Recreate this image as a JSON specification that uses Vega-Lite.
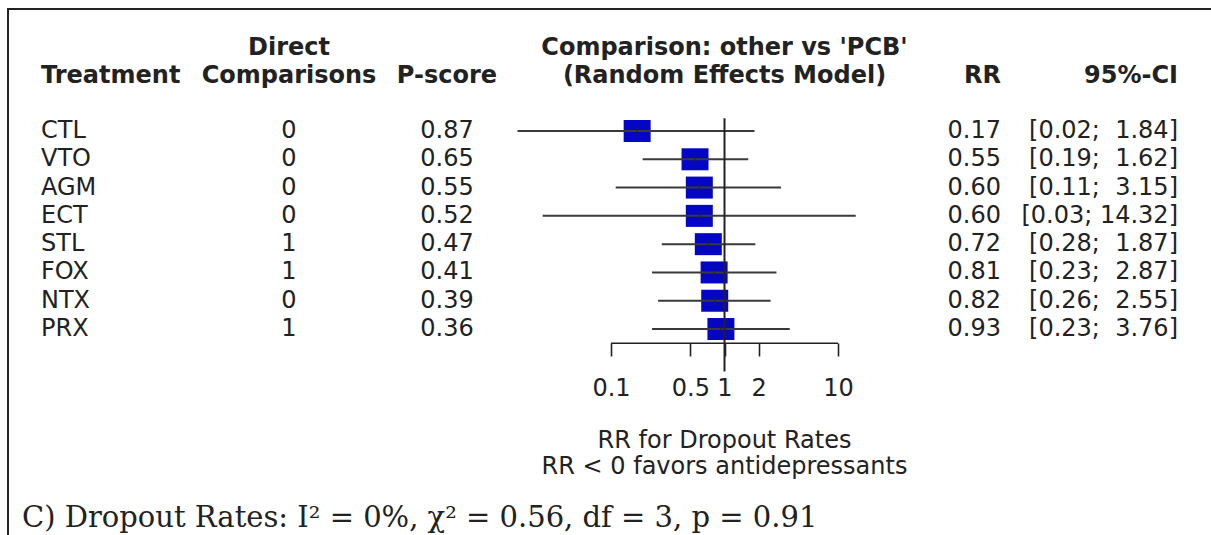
{
  "$schema": "https://vega.github.io/schema/vega-lite/v6.json",
  "width": 1206,
  "height": 530,
  "autosize": {"type": "none"},
  "padding": {"left": 8, "top": 9, "right": 0, "bottom": 0},
  "background": "white",
  "config": {
    "view": {"stroke": "#222222", "strokeWidth": 2},
    "text": {"font": "DejaVu Sans", "fontSize": 24, "color": "#222222"}
  },
  "data": {
    "values": [
      {"Treatment": "CTL", "Direct": 0, "Pscore": 0.87, "RR": 0.17, "lower": 0.015, "upper": 1.84, "CI": "[0.02; \u00a01.84]"},
      {"Treatment": "VTO", "Direct": 0, "Pscore": 0.65, "RR": 0.55, "lower": 0.19, "upper": 1.62, "CI": "[0.19; \u00a01.62]"},
      {"Treatment": "AGM", "Direct": 0, "Pscore": 0.55, "RR": 0.60, "lower": 0.11, "upper": 3.15, "CI": "[0.11; \u00a03.15]"},
      {"Treatment": "ECT", "Direct": 0, "Pscore": 0.52, "RR": 0.60, "lower": 0.025, "upper": 14.32, "CI": "[0.03; 14.32]"},
      {"Treatment": "STL", "Direct": 1, "Pscore": 0.47, "RR": 0.72, "lower": 0.28, "upper": 1.87, "CI": "[0.28; \u00a01.87]"},
      {"Treatment": "FOX", "Direct": 1, "Pscore": 0.41, "RR": 0.81, "lower": 0.23, "upper": 2.87, "CI": "[0.23; \u00a02.87]"},
      {"Treatment": "NTX", "Direct": 0, "Pscore": 0.39, "RR": 0.82, "lower": 0.26, "upper": 2.55, "CI": "[0.26; \u00a02.55]"},
      {"Treatment": "PRX", "Direct": 1, "Pscore": 0.36, "RR": 0.93, "lower": 0.23, "upper": 3.76, "CI": "[0.23; \u00a03.76]"}
    ]
  },
  "transform": [{"window": [{"op": "row_number", "as": "row"}]}],
  "layer": [
    {
      "mark": {"type": "point", "shape": "M-1.227,-1L1.227,-1L1.227,1L-1.227,1Z", "size": 484, "filled": true, "color": "#0505C4", "opacity": 1, "strokeWidth": 0},
      "encoding": {
        "x": {
          "field": "RR", "type": "quantitative",
          "scale": {"type": "log", "domain": [4.866e-7, 20549], "nice": false, "zero": false},
          "axis": {
            "values": [0.1, 0.5, 1, 2, 10], "format": "~g", "offset": -196,
            "domain": false, "grid": false, "ticks": true, "tickSize": 13, "tickWidth": 1.6, "tickColor": "#222222",
            "labelFont": "DejaVu Sans", "labelFontSize": 24, "labelColor": "#222222", "labelPadding": 20,
            "labelFlush": false, "labelOverlap": false, "title": null
          }
        },
        "y": {"field": "row", "type": "quantitative", "scale": {"domain": [-3.3125, 15.422], "reverse": true, "nice": false, "zero": false}, "axis": null}
      }
    },
    {
      "mark": {"type": "rule", "color": "#3a3a3a", "strokeWidth": 2},
      "encoding": {
        "x": {"field": "lower", "type": "quantitative"},
        "x2": {"field": "upper"},
        "y": {"field": "row", "type": "quantitative"}
      }
    },
    {
      "data": {"values": [{"ref": 1}]},
      "mark": {"type": "rule", "color": "#222222", "strokeWidth": 2},
      "encoding": {
        "x": {"field": "ref", "type": "quantitative"},
        "y": {"datum": 0.55},
        "y2": {"datum": 9.5}
      }
    },
    {
      "mark": {"type": "tick", "orient": "vertical", "size": 8, "thickness": 1.5, "color": "#222222"},
      "encoding": {
        "x": {"field": "RR", "type": "quantitative"},
        "y": {"field": "row", "type": "quantitative"}
      }
    },
    {
      "data": {"values": [{"from": 0.1, "to": 10}]},
      "mark": {"type": "rule", "color": "#222222", "strokeWidth": 1.6},
      "encoding": {
        "x": {"field": "from", "type": "quantitative"},
        "x2": {"field": "to"},
        "y": {"datum": 8.5}
      }
    },
    {
      "mark": {"type": "text", "align": "left", "baseline": "middle"},
      "encoding": {"x": {"datum": 9.504e-7}, "y": {"field": "row", "type": "quantitative"}, "text": {"field": "Treatment"}}
    },
    {
      "mark": {"type": "text", "align": "center", "baseline": "middle"},
      "encoding": {"x": {"datum": 1.4555e-4}, "y": {"field": "row", "type": "quantitative"}, "text": {"field": "Direct", "type": "quantitative", "format": "d"}}
    },
    {
      "mark": {"type": "text", "align": "center", "baseline": "middle"},
      "encoding": {"x": {"datum": 3.589e-3}, "y": {"field": "row", "type": "quantitative"}, "text": {"field": "Pscore", "type": "quantitative", "format": ".2f"}}
    },
    {
      "mark": {"type": "text", "align": "right", "baseline": "middle"},
      "encoding": {"x": {"datum": 272.9}, "y": {"field": "row", "type": "quantitative"}, "text": {"field": "RR", "type": "quantitative", "format": ".2f"}}
    },
    {
      "mark": {"type": "text", "align": "right", "baseline": "middle"},
      "encoding": {"x": {"datum": 9899}, "y": {"field": "row", "type": "quantitative"}, "text": {"field": "CI"}}
    },
    {
      "data": {"values": [{"h": "Treatment"}]},
      "mark": {"type": "text", "align": "left", "baseline": "middle", "fontWeight": "bold"},
      "encoding": {"x": {"datum": 9.504e-7}, "y": {"datum": -0.944}, "text": {"field": "h"}}
    },
    {
      "data": {"values": [{"h": "Direct\nComparisons"}]},
      "mark": {"type": "text", "align": "center", "baseline": "middle", "fontWeight": "bold", "lineHeight": 28, "lineBreak": "\n"},
      "encoding": {"x": {"datum": 1.4555e-4}, "y": {"datum": -1.934}, "text": {"field": "h"}}
    },
    {
      "data": {"values": [{"h": "P-score"}]},
      "mark": {"type": "text", "align": "center", "baseline": "middle", "fontWeight": "bold"},
      "encoding": {"x": {"datum": 3.589e-3}, "y": {"datum": -0.944}, "text": {"field": "h"}}
    },
    {
      "data": {"values": [{"h": "Comparison: other vs 'PCB'\n(Random Effects Model)"}]},
      "mark": {"type": "text", "align": "center", "baseline": "middle", "fontWeight": "bold", "lineHeight": 28, "lineBreak": "\n"},
      "encoding": {"x": {"datum": 1}, "y": {"datum": -1.934}, "text": {"field": "h"}}
    },
    {
      "data": {"values": [{"h": "RR"}]},
      "mark": {"type": "text", "align": "right", "baseline": "middle", "fontWeight": "bold"},
      "encoding": {"x": {"datum": 272.9}, "y": {"datum": -0.944}, "text": {"field": "h"}}
    },
    {
      "data": {"values": [{"h": "95%-CI"}]},
      "mark": {"type": "text", "align": "right", "baseline": "middle", "fontWeight": "bold"},
      "encoding": {"x": {"datum": 9899}, "y": {"datum": -0.944}, "text": {"field": "h"}}
    },
    {
      "data": {"values": [{"h": "RR for Dropout Rates\nRR < 0 favors antidepressants"}]},
      "mark": {"type": "text", "align": "center", "baseline": "middle", "lineHeight": 26, "lineBreak": "\n"},
      "encoding": {"x": {"datum": 1}, "y": {"datum": 11.96}, "text": {"field": "h"}}
    },
    {
      "data": {"values": [{"h": "C) Dropout Rates: I\u00b2 = 0%, \u03c7\u00b2 = 0.56, df = 3, p = 0.91"}]},
      "mark": {"type": "text", "align": "left", "baseline": "alphabetic", "font": "DejaVu Serif", "fontSize": 29},
      "encoding": {"x": {"datum": 6.464e-7}, "y": {"datum": 15}, "text": {"field": "h"}}
    }
  ]
}
